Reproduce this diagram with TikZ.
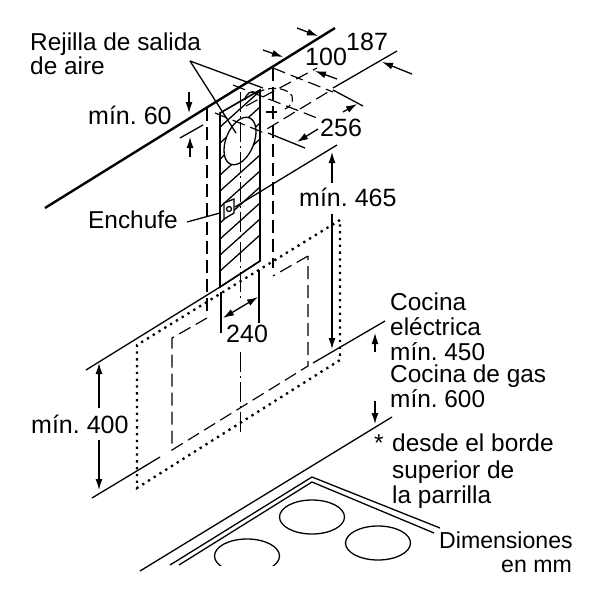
\documentclass[tikz,border=0pt]{standalone}
\usepackage{fontspec}
\setmainfont{Liberation Sans}
\usetikzlibrary{arrows.meta}
\tikzset{
  txt/.style={inner sep=0pt,anchor=base west,align=left,font=\fontsize{24.4}{24}\selectfont\frenchspacing},
  num/.style={inner sep=0pt,anchor=base west,align=left,font=\fontsize{25}{25}\selectfont\frenchspacing},
  thin line/.style={line width=1.3pt},
  dim/.style={line width=1.3pt,-{Latex[length=11pt,width=7pt]}},
  dimboth/.style={line width=1.3pt,{Latex[length=11pt,width=7pt]}-{Latex[length=11pt,width=7pt]}},
  longdash/.style={line width=1.15pt,dash pattern=on 13pt off 6pt},
  hood/.style={line width=2.3pt,dash pattern=on 2.3pt off 4.5pt},
  centre/.style={line width=1pt,dash pattern=on 20pt off 4pt on 2pt off 4pt}
}
\begin{document}
\begin{tikzpicture}[x=1pt,y=-1pt]
  \useasboundingbox (0,0) rectangle (600,600);
  % pared y lineas de cota superiores
  \draw [line width=2.4pt] (45,208) -- (335,28);
  \draw [thin line] (333,88) -- (397,51);
  \draw [thin line] (333,90) -- (363,106);
  \draw [thin line] (268,133) -- (305,148);
  \draw [thin line] (235,207) -- (337,145);
  \draw [thin line] (180,138) -- (203,125);
  % conducto
  \begin{scope}
    \clip (220,113) -- (260,90) -- (260,261) -- (220,287) -- cycle;
    \foreach \y in {104,120,...,280} {
      \draw [thin line] (210,\y) -- (270,\y-54);
    }
  \end{scope}
  \draw [line width=1.6pt] (220,113) -- (260,90) -- (260,261) -- (220,287) -- cycle;
  \draw [thin line,fill=white,rotate around={-22:(240,141)}] (240,141) ellipse (14 and 25);
  \draw [thin line,fill=white] (224,203) -- (234,199) -- (234,213) -- (224,219) -- cycle;
  \draw [thin line] (229,209) circle (2.5);
  % lineas ocultas
  \draw [longdash] (207,108) -- (207,317);
  \draw [longdash] (273,68) -- (273,268);
  \draw [centre] (240,92) -- (240,300);
  \draw [centre] (240,352) -- (240,433);
  \draw [longdash] (273,68) -- (333,92);
  \draw [longdash] (233,85) -- (317,118);
  \draw [longdash] (215,113) -- (262,132) -- (328,92);
  \draw [longdash] (246,106) -- (317,68);
  \draw [thin line] (245,100) .. controls (246,93) and (251,90) .. (257,93);
  \draw [longdash,dash pattern=on 8pt off 4pt] (257,93) .. controls (270,85) and (288,88) .. (292,96) .. controls (294,102) and (290,107) .. (285,109);
  \draw [thin line] (266,112) -- (277,112);
  % campana
  \draw [hood] (340,220) -- (137,345) -- (137,488) -- (340,360) -- cycle;
  \draw [longdash] (308,256) -- (273,276);
  \draw [longdash] (207,318) -- (172,338) -- (172,450) -- (308,366) -- (308,256);
  % cotas
  \draw [thin line] (86,370) -- (220,287) -- (260,261);
  \draw [thin line] (92,498) -- (160,457);
  \draw [thin line] (313,363) -- (385,321);
  \draw [thin line] (140,571) -- (392,417);
  \draw [thin line] (221,292) -- (221,333);
  \draw [thin line] (259,270) -- (259,323);
  \draw [dimboth] (223,318) -- (258,297);
  \draw [dim] (297,28) -- (318,36);
  \draw [dim] (263,50) -- (283,57);
  \draw [dim] (412,74) -- (382,62);
  \draw [dim] (337,79) -- (315,71);
  \draw [dim] (318,129) -- (297,142);
  \draw [dim] (343,112) -- (357,104);
  \draw [dim] (189,92) -- (189,113);
  \draw [dim] (190,157) -- (190,137);
  \draw [dim] (332,183) -- (332,152);
  \draw [dim] (332,214) -- (332,349);
  \draw [dim] (99,408) -- (99,363);
  \draw [dim] (99,440) -- (99,490);
  \draw [dim] (375,352) -- (375,333);
  \draw [dim] (375,401) -- (375,424);
  % lineas de referencia
  \draw [thin line] (190,61) -- (236,133);
  \draw [thin line] (190,61) -- (263,88);
  \draw [thin line] (187,222) -- (220,213);
  % placa
  \draw [thin line] (170,565) -- (312,477) -- (440,528);
  \draw [thin line] (179,565) -- (312,482) -- (434,533);
  \draw [thin line] (312,517) ellipse (32.5 and 17);
  \draw [thin line] (378,543) ellipse (32.5 and 17);
  \begin{scope}
    \clip (200,530) rectangle (300,565);
    \draw [thin line] (247,556) ellipse (32.5 and 17);
  \end{scope}
  % textos
  \node [txt] (rejilla) at (30,50) {Rejilla de salida};
  \node [txt] (aire) at (30,74) {de aire};
  \node [num] (min60) at (88,124) {mín. 60};
  \node [num] (cota187) at (346,50) {187};
  \node [num] (cota100) at (305,65) {100};
  \node [num] (cota256) at (320,136) {256};
  \node [num] (min465) at (299,206) {mín. 465};
  \node [txt] (enchufe) at (88,228) {Enchufe};
  \node [num] (cota240) at (226,342) {240};
  \node [txt] (cocina) at (390,310) {Cocina};
  \node [txt] (electrica) at (390,335) {eléctrica};
  \node [txt] (min450) at (390,360) {mín. 450};
  \node [txt] (cocinagas) at (390,382) {Cocina de gas};
  \node [txt] (min600) at (390,407) {mín. 600};
  \node [num] (min400) at (31,433) {mín. 400};
  \node [txt] (asterisco) at (374,451) {*};
  \node [txt] (desde) at (392,451) {desde el borde};
  \node [txt] (superior) at (392,478) {superior de};
  \node [txt] (parrilla) at (392,503) {la parrilla};
  \node [txt,font=\fontsize{23.1}{24}\selectfont] (dimensiones) at (439,548) {Dimensiones};
  \node [txt,font=\fontsize{23.1}{24}\selectfont,anchor=base east] (enmm) at (572,572) {en mm};
\end{tikzpicture}
\end{document}
